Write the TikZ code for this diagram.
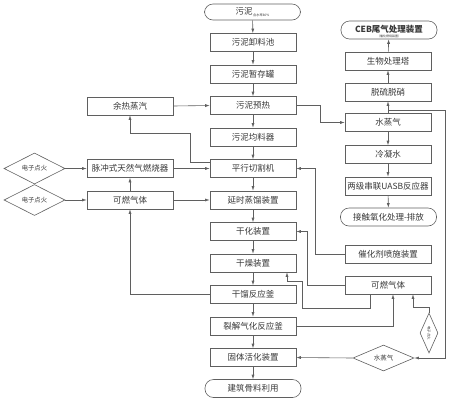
\documentclass[tikz,border=0pt]{standalone}
\usepackage{fontspec}
\setmainfont{Noto Sans CJK SC}
\usetikzlibrary{shapes.geometric,arrows.meta}
\definecolor{linec}{RGB}{95,95,95}
\definecolor{txtc}{RGB}{55,55,55}
\begin{document}
\begin{tikzpicture}[x=1pt,y=-1pt,
  box/.style={draw=linec, line width=0.6pt, minimum width=86pt, minimum height=18pt, inner sep=0pt, text=txtc, font=\fontsize{8.5}{9}\selectfont},
  term/.style={box, rounded corners=8.5pt, minimum width=96pt},
  dia/.style={draw=linec, line width=0.6pt, diamond, minimum width=61pt, minimum height=29pt, inner sep=0pt, text=txtc, font=\fontsize{6.3}{7}\selectfont},
  arr/.style={-{Latex[length=4.5pt,width=3pt]}, draw=linec, line width=0.6pt}]
\path[use as bounding box] (0,0) rectangle (450,400);
% main column
\node[term, minimum height=16pt] (s0) at (252.5,12) {污泥\raisebox{-1.5pt}{\fontsize{3.2}{4}\selectfont\,含水率80\%}};
\node[box] (m1) at (253,42.5) {污泥卸料池};
\node[box] (m2) at (253,74) {污泥暂存罐};
\node[box] (m3) at (253,105.5) {污泥预热};
\node[box] (m4) at (253,137) {污泥均料器};
\node[box] (m5) at (253,168.5) {平行切割机};
\node[box] (m6) at (253,200) {延时蒸馏装置};
\node[box] (m7) at (253,231.5) {干化装置};
\node[box] (m8) at (253,263) {干燥装置};
\node[box] (m9) at (253,294.5) {干馏反应釜};
\node[box] (m10) at (253,326) {裂解气化反应釜};
\node[box] (m11) at (253,357.5) {固体活化装置};
\node[term] (e2) at (253,388.5) {建筑骨料利用};
% left column
\node[box] (L1) at (130,106) {余热蒸汽};
\node[box] (L2) at (130,168.5) {脉冲式天然气燃烧器};
\node[box] (L3) at (130,200) {可燃气体};
\node[dia] (D1) at (34.5,168.5) {电子点火};
\node[dia] (D2) at (34.5,200) {电子点火};
% right column
\node[term] (r0) at (389,30) {\raisebox{1.5pt}{\bfseries CEB尾气处理装置}};
\node[font=\fontsize{3}{3.5}\selectfont, text=txtc] (r0s) at (389,36.2) {（催化燃烧装置）};
\node[box] (r1) at (388,61) {生物处理塔};
\node[box] (r2) at (388,92) {脱硫脱硝};
\node[box] (r3) at (388,122.5) {水蒸气};
\node[box] (r4) at (388,154.5) {冷凝水};
\node[box] (r5) at (388,186) {两级串联UASB反应器};
\node[term] (r6) at (388.5,217) {接触氧化处理-排放};
\node[box] (r7) at (388,254) {催化剂喷施装置};
\node[box] (r8) at (388,285) {可燃气体};
\node[dia, minimum width=61pt, minimum height=26pt, font=\fontsize{6.5}{7}\selectfont] (D3) at (383.5,358) {水蒸气};
\node[dia, minimum width=18pt, minimum height=40pt, font=\fontsize{3.5}{4}\selectfont] (D4) at (429,333) {\rotatebox{-90}{电子点火}};
% main chain
\foreach \a/\b in {s0/m1,m1/m2,m2/m3,m3/m4,m4/m5,m5/m6,m6/m7,m7/m8,m8/m9,m9/m10,m10/m11,m11/e2}
  \draw[arr] (\a) -- (\b);
% right chain
\draw[arr] (r3) -- (r2);
\draw[arr] (r2) -- (r1);
\draw[arr] (r1) -- (r0);
\draw[arr] (r3) -- (r4);
\draw[arr] (r4) -- (r5);
\draw[arr] (r5) -- (r6);
\draw[arr] (m3.east) -- ++(24,0) |- (r3.west);
\coordinate (j1) at (388,110);
\coordinate (jr) at (445,110);
\draw[arr] (j1) -- (jr) |- (D3.east);
\draw[arr] (D3.west) -- (m11.east);
\coordinate (k1) at (413,307);
\draw[arr] (D4.north) |- (k1) -- (k1 |- r8.south);
\draw[arr] (m10.east) -| ([xshift=5pt]r8.south);
\coordinate (t1) at (302,308);
\coordinate (t2) at (287,281);
\draw[arr] ([xshift=-18pt]r8.south) |- (t1) |- (t2) -- (t2 |- m8.south);
\coordinate (u1) at (307,231.5);
\draw[arr] (r8.west) -| (u1) -- (m7.east);
\coordinate (v1) at (315,168.5);
\draw[arr] (r7.west) -| (v1) -- (m5.east);
% left connectors
\draw[arr] (D1.east) -- (L2.west);
\draw[arr] (D2.east) -- (L3.west);
\draw[arr] (L2.east) -- (m5.west);
\draw[arr] (L3.east) -- (m6.west);
\draw[arr] (L1.east) -- (m3.west);
\coordinate (w1) at (190,133);
\draw[arr] ([yshift=6pt]m5.west) -| (w1) -| (L1.south);
\draw[arr] (m9.west) -| (L3.south);
\draw[arr] (L3.north) -- (L2.south);
\end{tikzpicture}
\end{document}
